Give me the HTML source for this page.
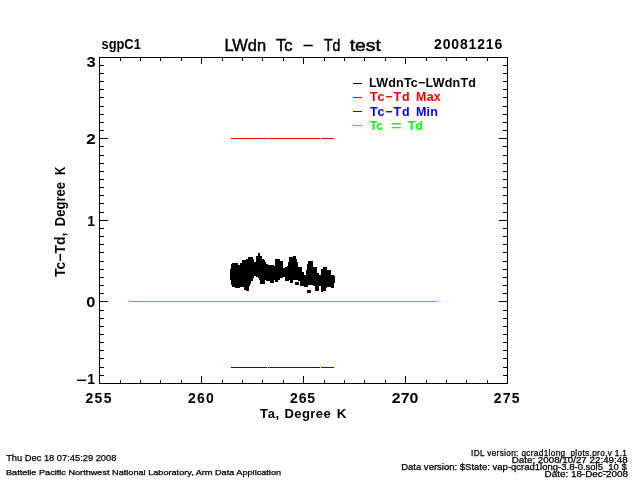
<!DOCTYPE html>
<html lang="en"><head><meta charset="utf-8"><title>LWdn Tc - Td test</title>
<style>
html,body{margin:0;padding:0;background:#fff;}
body{width:640px;height:480px;overflow:hidden;}
svg{display:block;}
text{font-family:"Liberation Sans",sans-serif;fill:#000;white-space:pre;}
.b{font-weight:bold;}
.t{stroke:#000;stroke-width:0.45px;}
.s{stroke:#000;stroke-width:0.25px;}
.ax{stroke:#000;stroke-width:1;fill:none;shape-rendering:crispEdges;}
.ln{stroke-width:1;fill:none;shape-rendering:crispEdges;}
.blob rect{fill:#000;shape-rendering:crispEdges;}
</style></head><body>
<svg width="640" height="480" viewBox="0 0 640 480">
<rect x="0" y="0" width="640" height="480" fill="#fff"/>
<rect class="ax" x="99.5" y="57.5" width="408.0" height="326.0"/>
<path class="ax" d="M120.5 383.5v-3.5M120.5 57.5v3.5M140.5 383.5v-3.5M140.5 57.5v3.5M160.5 383.5v-3.5M160.5 57.5v3.5M181.5 383.5v-3.5M181.5 57.5v3.5M201.5 383.5v-8M201.5 57.5v6M222.5 383.5v-3.5M222.5 57.5v3.5M242.5 383.5v-3.5M242.5 57.5v3.5M262.5 383.5v-3.5M262.5 57.5v3.5M283.5 383.5v-3.5M283.5 57.5v3.5M303.5 383.5v-8M303.5 57.5v6M324.5 383.5v-3.5M324.5 57.5v3.5M344.5 383.5v-3.5M344.5 57.5v3.5M364.5 383.5v-3.5M364.5 57.5v3.5M385.5 383.5v-3.5M385.5 57.5v3.5M405.5 383.5v-8M405.5 57.5v6M426.5 383.5v-3.5M426.5 57.5v3.5M446.5 383.5v-3.5M446.5 57.5v3.5M466.5 383.5v-3.5M466.5 57.5v3.5M487.5 383.5v-3.5M487.5 57.5v3.5M99.5 65.5h4M507.5 65.5h-5M99.5 73.5h4M507.5 73.5h-5M99.5 81.5h4M507.5 81.5h-5M99.5 89.5h4M507.5 89.5h-5M99.5 97.5h4M507.5 97.5h-5M99.5 106.5h4M507.5 106.5h-5M99.5 114.5h4M507.5 114.5h-5M99.5 122.5h4M507.5 122.5h-5M99.5 130.5h4M507.5 130.5h-5M99.5 138.5h8M507.5 138.5h-9M99.5 146.5h4M507.5 146.5h-5M99.5 155.5h4M507.5 155.5h-5M99.5 163.5h4M507.5 163.5h-5M99.5 171.5h4M507.5 171.5h-5M99.5 179.5h4M507.5 179.5h-5M99.5 187.5h4M507.5 187.5h-5M99.5 195.5h4M507.5 195.5h-5M99.5 203.5h4M507.5 203.5h-5M99.5 212.5h4M507.5 212.5h-5M99.5 220.5h8M507.5 220.5h-9M99.5 228.5h4M507.5 228.5h-5M99.5 236.5h4M507.5 236.5h-5M99.5 244.5h4M507.5 244.5h-5M99.5 252.5h4M507.5 252.5h-5M99.5 261.5h4M507.5 261.5h-5M99.5 269.5h4M507.5 269.5h-5M99.5 277.5h4M507.5 277.5h-5M99.5 285.5h4M507.5 285.5h-5M99.5 293.5h4M507.5 293.5h-5M99.5 301.5h8M507.5 301.5h-9M99.5 310.5h4M507.5 310.5h-5M99.5 318.5h4M507.5 318.5h-5M99.5 326.5h4M507.5 326.5h-5M99.5 334.5h4M507.5 334.5h-5M99.5 342.5h4M507.5 342.5h-5M99.5 350.5h4M507.5 350.5h-5M99.5 358.5h4M507.5 358.5h-5M99.5 367.5h4M507.5 367.5h-5M99.5 375.5h4M507.5 375.5h-5"/>
<path class="ln" stroke="#00ff00" d="M129 301.5H436"/>
<path class="ln" stroke="#ff0000" d="M231 138.5H267M268 138.5H320M321 138.5H334"/>
<path class="ln" stroke="#0000ff" d="M231 367.5H267M268 367.5H320M321 367.5H334"/>
<g class="blob">
<rect x="230.0" y="269.0" width="1.0" height="11.0"/>
<rect x="231.0" y="264.0" width="1.0" height="21.0"/>
<rect x="232.0" y="263.0" width="3.0" height="23.5"/>
<rect x="235.0" y="263.0" width="3.0" height="24.5"/>
<rect x="238.0" y="265.0" width="1.5" height="22.5"/>
<rect x="239.5" y="263.0" width="2.5" height="24.0"/>
<rect x="242.0" y="260.0" width="2.0" height="26.5"/>
<rect x="244.0" y="260.0" width="1.5" height="29.5"/>
<rect x="245.5" y="258.5" width="2.5" height="32.5"/>
<rect x="248.0" y="257.0" width="1.0" height="34.0"/>
<rect x="249.0" y="257.0" width="1.0" height="28.5"/>
<rect x="250.0" y="257.0" width="1.0" height="26.5"/>
<rect x="251.0" y="257.0" width="1.5" height="24.0"/>
<rect x="252.5" y="259.0" width="1.5" height="19.0"/>
<rect x="254.0" y="262.0" width="2.0" height="14.2"/>
<rect x="256.0" y="255.5" width="1.5" height="21.0"/>
<rect x="257.5" y="253.0" width="1.5" height="25.0"/>
<rect x="259.0" y="253.0" width="1.0" height="26.5"/>
<rect x="260.0" y="256.0" width="1.5" height="27.5"/>
<rect x="261.5" y="259.0" width="2.5" height="24.5"/>
<rect x="264.0" y="260.0" width="1.0" height="23.5"/>
<rect x="265.0" y="261.7" width="1.2" height="18.3"/>
<rect x="266.2" y="264.0" width="1.8" height="17.0"/>
<rect x="268.0" y="264.5" width="2.0" height="16.5"/>
<rect x="270.0" y="264.5" width="3.7" height="18.3"/>
<rect x="273.7" y="266.4" width="1.4" height="13.6"/>
<rect x="275.1" y="259.1" width="3.3" height="23.2"/>
<rect x="278.4" y="259.1" width="1.9" height="20.9"/>
<rect x="280.3" y="261.0" width="2.5" height="17.1"/>
<rect x="282.8" y="267.8" width="2.2" height="8.7"/>
<rect x="285.0" y="267.3" width="1.8" height="14.1"/>
<rect x="286.8" y="265.5" width="1.2" height="15.9"/>
<rect x="288.0" y="262.0" width="1.2" height="19.4"/>
<rect x="289.2" y="257.0" width="1.0" height="23.0"/>
<rect x="290.2" y="257.0" width="2.7" height="26.0"/>
<rect x="292.9" y="256.1" width="2.8" height="23.4"/>
<rect x="295.7" y="259.0" width="1.3" height="21.0"/>
<rect x="297.0" y="262.0" width="1.1" height="18.0"/>
<rect x="298.1" y="266.9" width="2.3" height="14.5"/>
<rect x="300.4" y="266.9" width="1.8" height="18.7"/>
<rect x="302.2" y="271.6" width="1.4" height="14.5"/>
<rect x="303.6" y="275.3" width="2.8" height="11.3"/>
<rect x="306.4" y="270.0" width="0.9" height="16.6"/>
<rect x="307.3" y="264.1" width="1.0" height="22.5"/>
<rect x="308.3" y="261.0" width="4.7" height="24.1"/>
<rect x="313.0" y="266.9" width="2.0" height="18.7"/>
<rect x="315.0" y="266.9" width="2.2" height="23.9"/>
<rect x="317.2" y="273.0" width="1.8" height="17.8"/>
<rect x="319.0" y="275.3" width="2.0" height="10.3"/>
<rect x="321.0" y="269.2" width="1.8" height="22.5"/>
<rect x="322.8" y="266.9" width="3.2" height="24.3"/>
<rect x="326.0" y="266.9" width="1.0" height="20.6"/>
<rect x="327.0" y="270.1" width="4.3" height="16.5"/>
<rect x="331.3" y="274.8" width="2.8" height="13.6"/>
<rect x="334.1" y="275.8" width="1.2" height="7.5"/>
<rect x="295.0" y="282.0" width="4.0" height="2.7"/>
<rect x="307.0" y="289.8" width="3.7" height="2.8"/>
</g>
<text id="sgp" y="48.8" font-size="14" class="b"><tspan id="sgp_0" x="101.54" textLength="39.25" lengthAdjust="spacingAndGlyphs">sgpC1</tspan></text>
<text id="title" y="50.5" font-size="16.5" class="t"><tspan id="title_0" x="224.38" textLength="41.76" lengthAdjust="spacingAndGlyphs">LWdn</tspan> <tspan id="title_1" x="275.88" textLength="16.62" lengthAdjust="spacing">Tc</tspan> <tspan id="title_2" x="302.79" textLength="10.54" lengthAdjust="spacingAndGlyphs">−</tspan> <tspan id="title_3" x="323.93" textLength="16.44" lengthAdjust="spacingAndGlyphs">Td</tspan> <tspan id="title_4" x="349.71" textLength="31.22" lengthAdjust="spacingAndGlyphs">test</tspan></text>
<text id="date" y="48.9" font-size="14" class="b"><tspan id="date_0" x="434.00" textLength="68.30" lengthAdjust="spacing">20081216</tspan></text>
<text id="y3" y="67" font-size="14" class="b"><tspan id="y3_0" x="86.45" textLength="9.30" lengthAdjust="spacingAndGlyphs">3</tspan></text>
<text id="y2" y="144.4" font-size="14" class="b"><tspan id="y2_0" x="86.29" textLength="9.47" lengthAdjust="spacingAndGlyphs">2</tspan></text>
<text id="y1" y="225.9" font-size="14" class="b"><tspan id="y1_0" x="87.22">1</tspan></text>
<text id="y0" y="307.4" font-size="14" class="b"><tspan id="y0_0" x="86.31" textLength="9.13" lengthAdjust="spacingAndGlyphs">0</tspan></text>
<text id="ym1" y="383.9" font-size="14" class="b"><tspan id="ym1_0" x="76.08" textLength="10.76" lengthAdjust="spacingAndGlyphs" dy="1">−</tspan> <tspan id="ym1_1" x="87.22" dy="-1">1</tspan></text>
<text id="x255" y="403.1" font-size="14" class="b"><tspan id="x255_0" x="85.40" textLength="26.06" lengthAdjust="spacing">255</tspan></text>
<text id="x260" y="403.1" font-size="14" class="b"><tspan id="x260_0" x="188.00" textLength="25.81" lengthAdjust="spacing">260</tspan></text>
<text id="x265" y="403.1" font-size="14" class="b"><tspan id="x265_0" x="290.10" textLength="24.86" lengthAdjust="spacing">265</tspan></text>
<text id="x270" y="403.1" font-size="14" class="b"><tspan id="x270_0" x="391.83" textLength="26.46" lengthAdjust="spacingAndGlyphs">270</tspan></text>
<text id="x275" y="403.1" font-size="14" class="b"><tspan id="x275_0" x="493.70" textLength="25.86" lengthAdjust="spacing">275</tspan></text>
<text id="xl" y="418.3" font-size="13" class="b"><tspan id="xl_0" x="260.07" textLength="19.05" lengthAdjust="spacing">Ta,</tspan> <tspan id="xl_1" x="284.38" textLength="46.33" lengthAdjust="spacing">Degree</tspan> <tspan id="xl_2" x="336.84" textLength="9.76" lengthAdjust="spacingAndGlyphs">K</tspan></text>
<text id="lg1" y="86.8" font-size="12.5" class="b" style="fill:#000000"><tspan id="lg1_0" x="369.02" textLength="106.87" lengthAdjust="spacing">LWdnTc−LWdnTd</tspan></text>
<text id="lg2" y="101.4" font-size="12.5" class="b" style="fill:#ff0000"><tspan id="lg2_0" x="369.88" textLength="39.73" lengthAdjust="spacing">Tc−Td</tspan> <tspan id="lg2_1" x="416.12" textLength="24.70" lengthAdjust="spacing">Max</tspan></text>
<text id="lg3" y="115.8" font-size="12.5" class="b" style="fill:#0000ff"><tspan id="lg3_0" x="369.88" textLength="39.73" lengthAdjust="spacing">Tc−Td</tspan> <tspan id="lg3_1" x="416.12" textLength="21.66" lengthAdjust="spacing">Min</tspan></text>
<text id="lg4" y="130.1" font-size="12.5" class="b" style="fill:#00ff00"><tspan id="lg4_0" x="369.88" textLength="13.02" lengthAdjust="spacingAndGlyphs">Tc</tspan> <tspan id="lg4_1" x="391.03" textLength="10.53" lengthAdjust="spacingAndGlyphs">=</tspan> <tspan id="lg4_2" x="407.88" textLength="15.01" lengthAdjust="spacingAndGlyphs">Td</tspan></text>
<text id="bl1" y="460.8" font-size="9.5" class="s"><tspan id="bl1_0" x="6.16" textLength="110.23" lengthAdjust="spacingAndGlyphs">Thu Dec 18 07:45:29 2008</tspan></text>
<text id="bl2" y="474.8" font-size="7.3" class="s"><tspan id="bl2_0" x="5.97" textLength="275.10" lengthAdjust="spacingAndGlyphs">Battelle Pacific Northwest National Laboratory, Arm Data Application</tspan></text>
<text id="br1" y="455.8" font-size="8.2" class="s"><tspan id="br1_0" x="471.05" textLength="155.86" lengthAdjust="spacing">IDL version: qcrad1long_plots.pro,v 1.1</tspan></text>
<text id="br2" y="462.8" font-size="8.2" class="s"><tspan id="br2_0" x="511.75" textLength="115.86" lengthAdjust="spacingAndGlyphs">Date: 2008/10/27 22:49:48</tspan></text>
<text id="br3" y="469.6" font-size="8.2" class="s"><tspan id="br3_0" x="401.17" textLength="225.65" lengthAdjust="spacingAndGlyphs">Data version: $State: vap-qcrad1long-3.8-0.sol5_10 $</tspan></text>
<text id="br4" y="476.9" font-size="8.2" class="s"><tspan id="br4_0" x="544.55" textLength="83.43" lengthAdjust="spacingAndGlyphs">Date: 18-Dec-2008</tspan></text>
<g transform="translate(65,277) rotate(-90)">
<text id="yl" y="0" font-size="14" class="b"><tspan id="yl_0" x="-0.12" textLength="44.59" lengthAdjust="spacing">Tc−Td,</tspan> <tspan id="yl_1" x="50.87" textLength="44.17" lengthAdjust="spacingAndGlyphs">Degree</tspan> <tspan id="yl_2" x="101.97" textLength="8.44" lengthAdjust="spacingAndGlyphs">K</tspan></text>
</g>
<path class="ln" stroke="#000000" d="M353 83.5H362"/>
<path class="ln" stroke="#ff0000" d="M353 97.5H362"/>
<path class="ln" stroke="#0000ff" d="M353 111.5H362"/>
<path class="ln" stroke="#00ff00" d="M353 125.5H362"/>
</svg></body></html>
